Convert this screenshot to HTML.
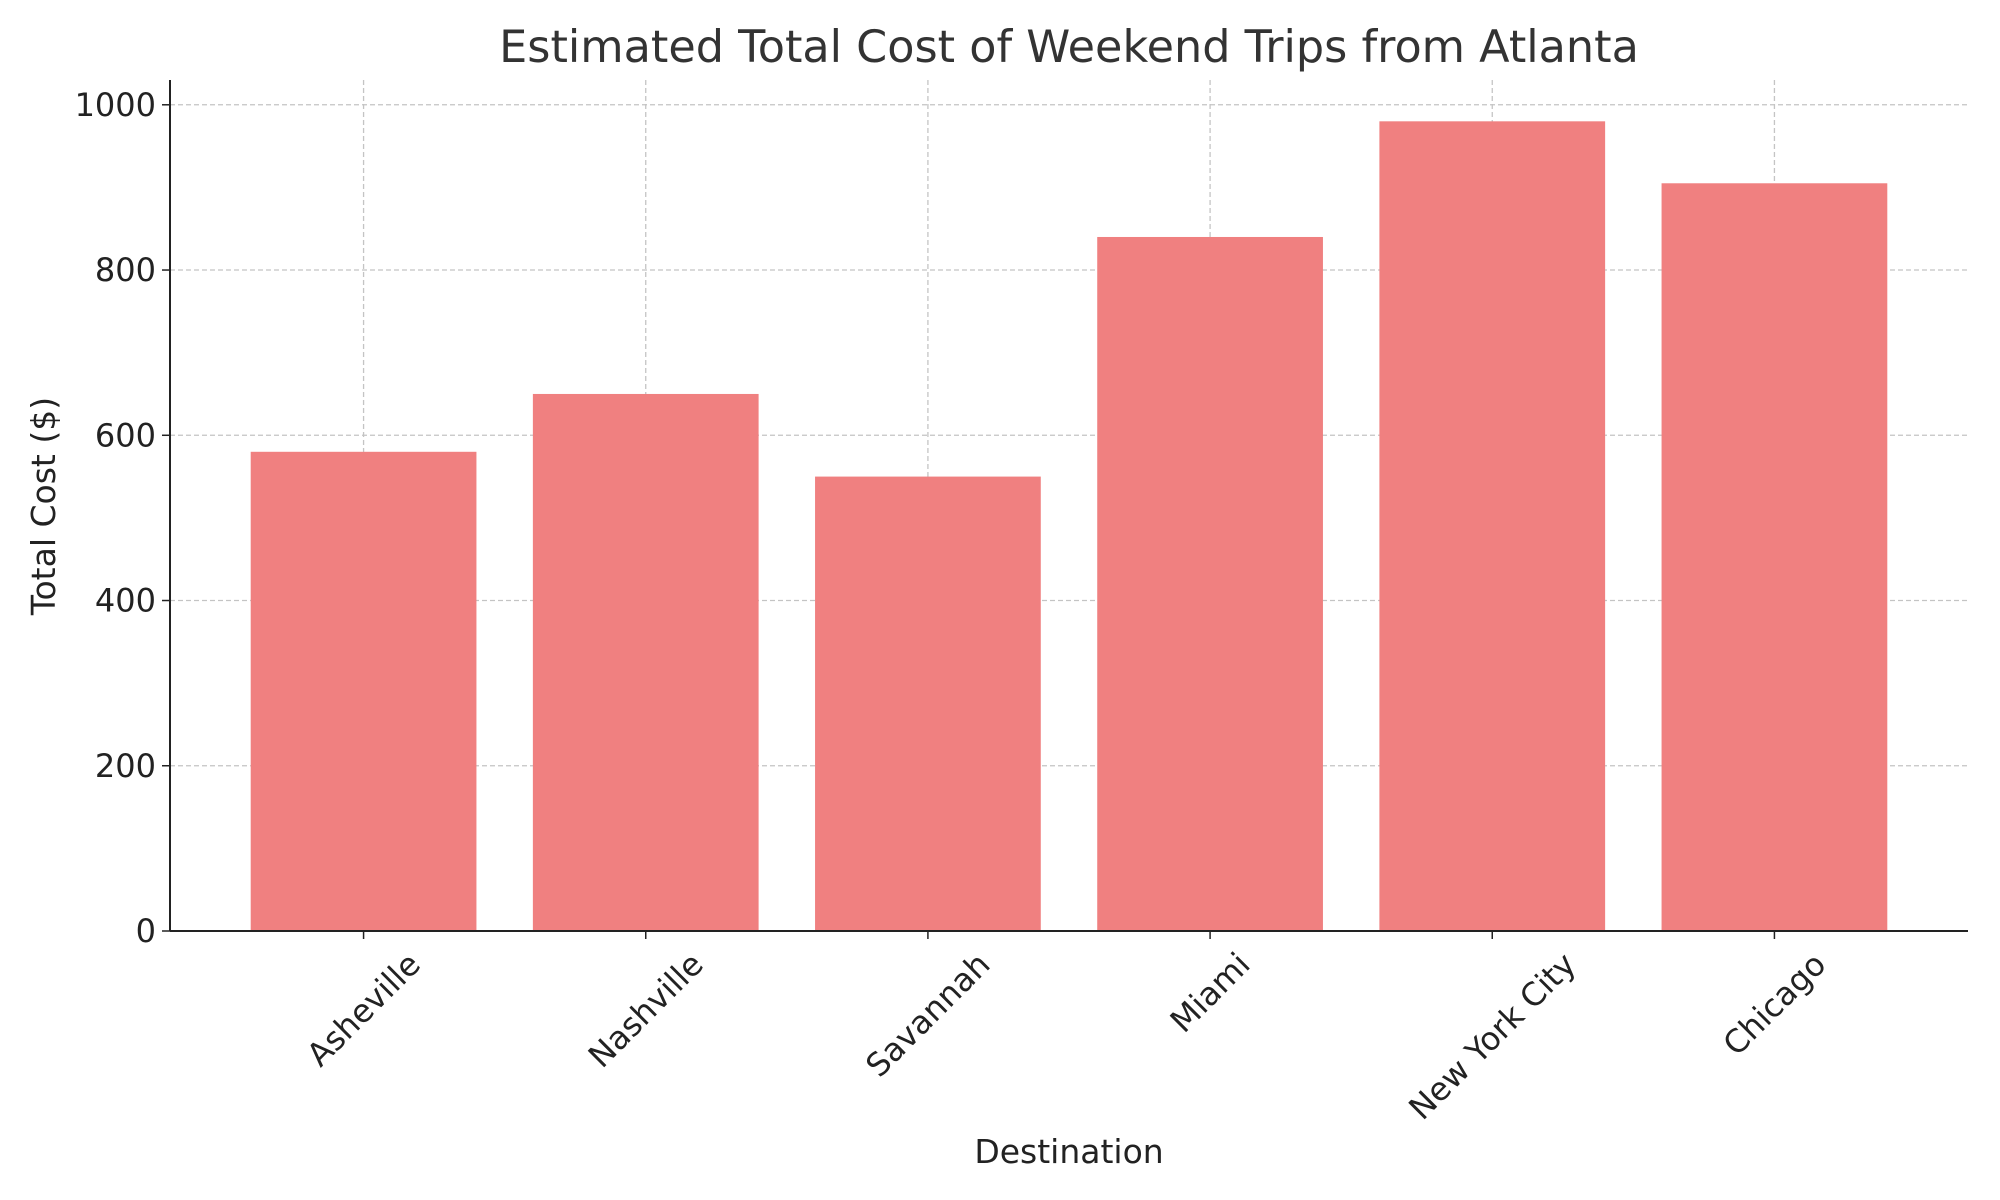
<!DOCTYPE html>
<html><head><meta charset="utf-8"><style>
body{margin:0;background:#fff}
svg{display:block;font-family:"DejaVu Sans","Liberation Sans",sans-serif}
</style></head><body>
<svg id="chart" width="2000" height="1200" viewBox="0 0 2000 1200">
<rect width="2000" height="1200" fill="#fff"/>
<text x="1069" y="62" font-size="44.5" text-anchor="middle" fill="#333">Estimated Total Cost of Weekend Trips from Atlanta</text>
<g id="grid"></g><g id="bars"></g><g id="axes"></g>
<text x="1069" y="1163" font-size="33" text-anchor="middle" fill="#222">Destination</text>
<text transform="translate(55,506) rotate(-90)" font-size="33" text-anchor="middle" fill="#222">Total Cost ($)</text>
</svg>
<script>
const categories=["Asheville","Nashville","Savannah","Miami","New York City","Chicago"];
const values=[580,650,550,840,980,905];
const yTicks=[0,200,400,600,800,1000];
const L=170,R=1968,T=80,B=931;
const xmin=-0.686,xmax=categories.length-1+0.686,ymax=1030;
const X=i=>L+(i-xmin)/(xmax-xmin)*(R-L);
const Y=v=>B-v/ymax*(B-T);
const bw=0.8*(X(1)-X(0));
const ns="http://www.w3.org/2000/svg";
function mk(t,a,p){const e=document.createElementNS(ns,t);for(const k in a)e.setAttribute(k,a[k]);p.appendChild(e);return e;}
const g=document.getElementById('grid'),bg=document.getElementById('bars'),ax=document.getElementById('axes');
yTicks.forEach(v=>{
 const l=mk('line',{x1:L,x2:R,y1:Y(v),y2:Y(v),stroke:'#c4c4c4','stroke-width':1.3,'stroke-dasharray':'5,3'},g);
 
 
 const tk=mk('line',{x1:L-8,x2:L,y1:Y(v),y2:Y(v),stroke:'#222','stroke-width':1.5},ax);
 
 
 const t=mk('text',{x:L-14,y:Y(v)+11,'font-size':32,'text-anchor':'end',fill:'#222'},ax);t.textContent=v;
 
 
});
categories.forEach((c,i)=>{
 const l=mk('line',{x1:X(i),x2:X(i),y1:T,y2:B,stroke:'#c4c4c4','stroke-width':1.3,'stroke-dasharray':'5,3'},g);
 
 
 const r=mk('rect',{x:X(i)-bw/2,y:Y(values[i]),width:bw,height:B-Y(values[i]),fill:'#f08080'},bg);
 
 
 const tk=mk('line',{x1:X(i),x2:X(i),y1:B,y2:B+8,stroke:'#222','stroke-width':1.5},ax);
 
 
 const t=mk('text',{'font-size':32,'text-anchor':'middle','dominant-baseline':'central',fill:'#222'},ax);t.textContent=c;
 
 
 const w=t.getComputedTextLength(),h=30;
 const cy=B+17+(w+h)/(2*Math.SQRT2);
 t.setAttribute('transform',`translate(${X(i)},${cy}) rotate(-45)`);
});
const a1=mk('line',{x1:L,x2:L,y1:T,y2:B,stroke:'#222','stroke-width':2},ax);


const a2=mk('line',{x1:L,x2:R,y1:B,y2:B,stroke:'#222','stroke-width':2},ax);


</script>
</body></html>
